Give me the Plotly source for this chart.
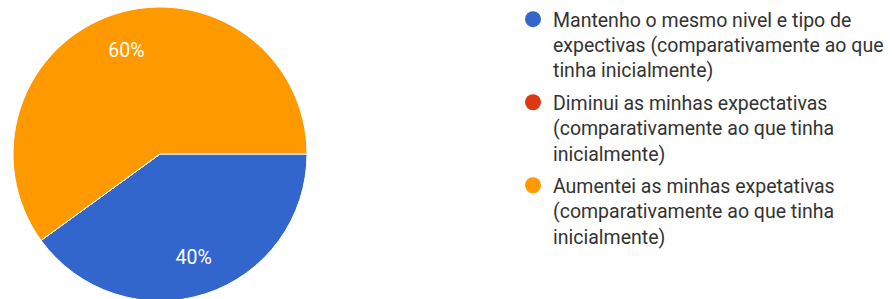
import plotly.graph_objects as go

categories = [
    "Mantenho o mesmo nivel e tipo de<br>expectivas (comparativamente ao que<br>tinha inicialmente)",
    "Diminui as minhas expectativas<br>(comparativamente ao que tinha<br>inicialmente)",
    "Aumentei as minhas expetativas<br>(comparativamente ao que tinha<br>inicialmente)",
]
values = [2, 0, 3]
colors = ["#3366CC", "#DC3912", "#FF9900"]

W, H = 892, 303
dom = dict(x=[13 / W, 307 / W], y=[(H - 301) / H, (H - 7) / H])

fig = go.Figure()
# filled pie
fig.add_trace(go.Pie(
    labels=categories, values=values,
    marker=dict(colors=colors, line=dict(color="white", width=1)),
    sort=False, direction="clockwise", rotation=90,
    textinfo="none", showlegend=False, hoverinfo="label+percent",
    domain=dom,
))
# label ring (transparent) to place percentages further out
fig.add_trace(go.Pie(
    labels=categories, values=values,
    marker=dict(colors=["rgba(0,0,0,0)"] * len(values), line=dict(width=0)),
    sort=False, direction="clockwise", rotation=90, hole=0.48,
    texttemplate="%{percent:.0%}", textposition="inside",
    insidetextorientation="horizontal",
    textfont=dict(color="white", size=19.5, family="Roboto"),
    showlegend=False, hoverinfo="skip",
    domain=dom,
))

for i, (name, col) in enumerate(zip(categories, colors)):
    fig.add_trace(go.Scatter(
        x=[None], y=[None], mode="markers", name=name,
        legendgroup=f"g{i}",
        marker=dict(symbol="circle", size=20, color=col),
        showlegend=True,
    ))

fig.update_layout(
    width=W, height=H,
    margin=dict(l=0, r=0, t=0, b=0),
    paper_bgcolor="white", plot_bgcolor="white",
    xaxis=dict(visible=False), yaxis=dict(visible=False),
    font=dict(family="Roboto", size=19.5, color="#333333"),
    legend=dict(
        x=513 / W, y=1, xanchor="left", yanchor="top",
        valign="top", tracegroupgap=4, itemsizing="trace",
        maxheight=1,
        font=dict(family="Roboto", size=19.5, color="#333333"),
    ),
)

fig.write_html(
    "out.html",
    config={"displayModeBar": False},
    post_script="document.body.style.margin='0';document.body.style.overflow='hidden';",
)
